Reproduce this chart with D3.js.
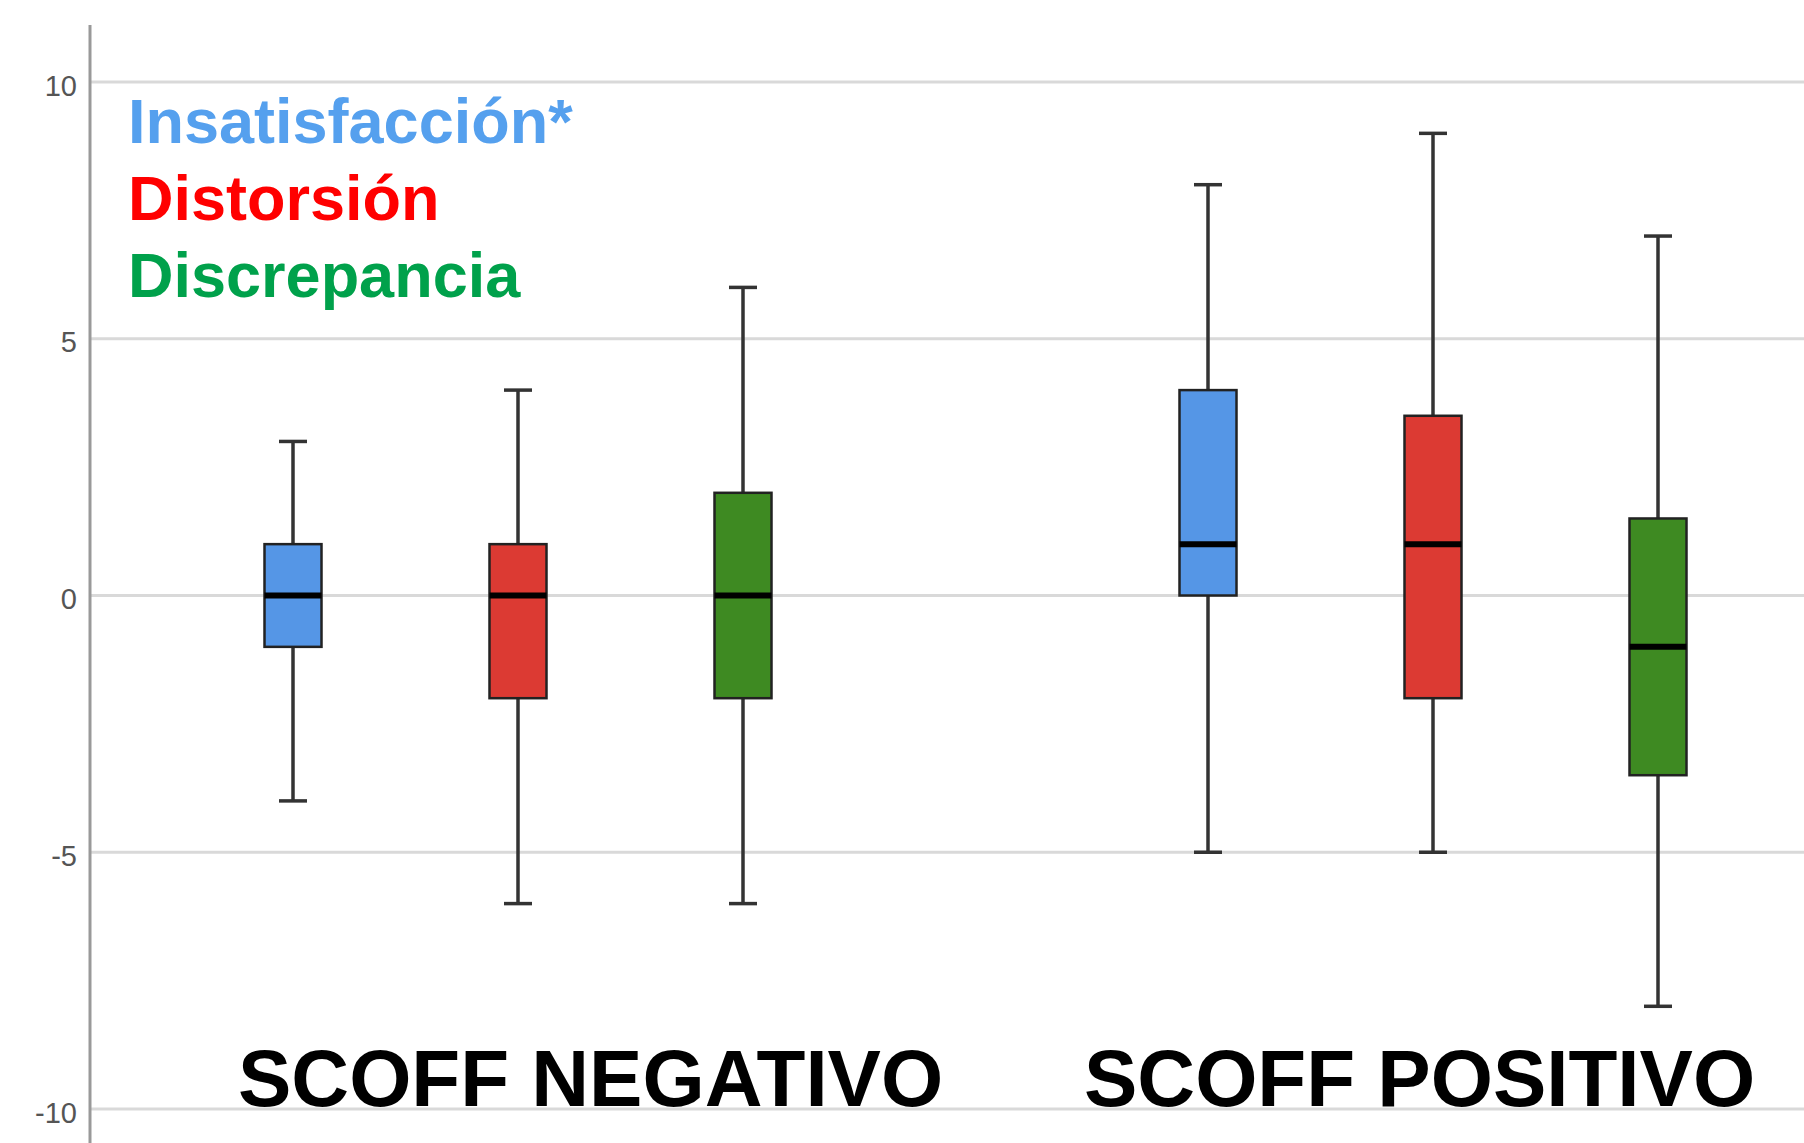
<!DOCTYPE html>
<html>
<head>
<meta charset="utf-8">
<script src="https://cdn.jsdelivr.net/npm/d3@7"></script>
<style>
  html, body { margin: 0; padding: 0; background: #fff; }
  svg { display: block; }
</style>
</head>
<body>
<svg id="chart" width="1804" height="1143"></svg>
<script>
// ---- Data ----
const groups = ["SCOFF NEGATIVO", "SCOFF POSITIVO"];
const series = ["Insatisfacción*", "Distorsión", "Discrepancia"];
const seriesColors = ["#5596E6", "#DC3A33", "#3E8A22"];
const legendColors = ["#55A0EE", "#FF0000", "#00A14B"];
const yTicks = [-10, -5, 0, 5, 10];
const yTickLabels = ["-10", "-5", "0", "5", "10"];

// per group, per series: [min, q1, median, q3, max]
const negativoStats = [
  [-4, -1, 0, 1, 3],
  [-6, -2, 0, 1, 4],
  [-6, -2, 0, 2, 6]
];
const positivoStats = [
  [-5, 0, 1, 4, 8],
  [-5, -2, 1, 3.5, 9],
  [-8, -3.5, -1, 1.5, 7]
];
const groupStats = [negativoStats, positivoStats];

// ---- Layout ----
const W = 1804, H = 1143;
const axisX = 90;
const svg = d3.select("#chart");

const y = d3.scaleLinear().domain([-10, 10]).range([1109, 82]);
const xGroup = d3.scalePoint().domain(groups).range([518, 1433]);
const xInner = d3.scalePoint().domain(series).range([-225, 225]);
const boxW = 57, capW = 28;

// gridlines
svg.append("g").selectAll("line").data(yTicks).join("line")
  .attr("x1", axisX).attr("x2", W)
  .attr("y1", d => y(d)).attr("y2", d => y(d))
  .attr("stroke", "#d9d9d9").attr("stroke-width", 3);

// y axis
const yAxis = d3.axisLeft(y).tickValues(yTicks)
  .tickFormat((d, i) => yTickLabels[i])
  .tickSize(0).tickPadding(13);
const gAxis = svg.append("g").attr("transform", `translate(${axisX},0)`).call(yAxis);
gAxis.select(".domain").remove();
gAxis.selectAll("text")
  .attr("font-family", "Liberation Sans, Arial, sans-serif")
  .attr("font-size", 29).attr("fill", "#555")
  .attr("dy", "0.45em");
svg.append("line")
  .attr("x1", axisX).attr("x2", axisX).attr("y1", 25).attr("y2", H)
  .attr("stroke", "#999").attr("stroke-width", 3);

// boxes
groups.forEach((g, gi) => {
  series.forEach((s, si) => {
    const [mn, q1, md, q3, mx] = groupStats[gi][si];
    const cx = xGroup(g) + xInner(s);
    const bg = svg.append("g");
    // whiskers
    bg.append("line").attr("x1", cx).attr("x2", cx).attr("y1", y(mx)).attr("y2", y(q3))
      .attr("stroke", "#333").attr("stroke-width", 3.5);
    bg.append("line").attr("x1", cx).attr("x2", cx).attr("y1", y(q1)).attr("y2", y(mn))
      .attr("stroke", "#333").attr("stroke-width", 3.5);
    // caps
    [mn, mx].forEach(v => {
      bg.append("line").attr("x1", cx - capW / 2).attr("x2", cx + capW / 2)
        .attr("y1", y(v)).attr("y2", y(v))
        .attr("stroke", "#333").attr("stroke-width", 3.5);
    });
    // box
    bg.append("rect")
      .attr("x", cx - boxW / 2).attr("width", boxW)
      .attr("y", y(q3)).attr("height", y(q1) - y(q3))
      .attr("fill", seriesColors[si]).attr("stroke", "#222").attr("stroke-width", 2.5);
    // median
    bg.append("line").attr("x1", cx - boxW / 2).attr("x2", cx + boxW / 2)
      .attr("y1", y(md)).attr("y2", y(md))
      .attr("stroke", "#000").attr("stroke-width", 6);
  });
});

// legend (text)
const legendBaselines = [143, 220, 297];
svg.append("g").selectAll("text").data(series).join("text")
  .attr("x", 128).attr("y", (d, i) => legendBaselines[i])
  .attr("font-family", "Liberation Sans, Arial, sans-serif")
  .attr("font-weight", "bold").attr("font-size", 63)
  .attr("fill", (d, i) => legendColors[i])
  .text(d => d);

// group labels
const groupLabelX = [238, 1084];
svg.append("g").selectAll("text").data(groups).join("text")
  .attr("x", (d, i) => groupLabelX[i]).attr("y", 1106)
  .attr("font-family", "Liberation Sans, Arial, sans-serif")
  .attr("font-weight", "bold").attr("font-size", 80)
  .attr("fill", "#000")
  .text(d => d);
</script>
</body>
</html>
